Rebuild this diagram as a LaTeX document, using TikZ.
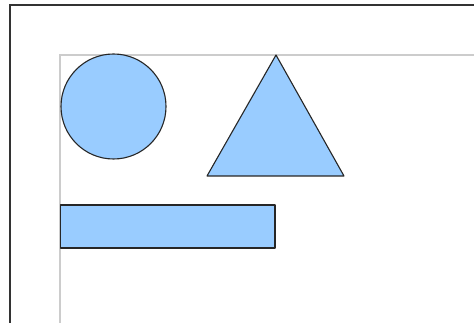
\documentclass[tikz,border=0pt]{standalone}
\begin{document}
\begin{tikzpicture}[x=1pt,y=-1pt,
  frame/.style={draw=black!80,line width=2pt},
  guide/.style={draw=black!20,line width=1.5pt},
  shapefill/.style={fill=shapeblue,draw=black!85,line width=1.1pt,line join=round}]
\definecolor{shapeblue}{HTML}{99CCFF}
\useasboundingbox (0,0) rectangle (474,323);
\fill[white] (0,0) rectangle (474,323);
% outer frame
\draw[frame] (10,330) -- (10,5) -- (480,5);
% guide lines
\draw[guide] (60,330) -- (60,55) -- (480,55);
% circle
\draw[shapefill] (113.5,106.5) circle[radius=52.5];
% triangle
\draw[shapefill] (276,55) -- (344,176) -- (207,176) -- cycle;
% rectangle
\draw[shapefill] (60.5,205) rectangle (275,248);
\end{tikzpicture}
\end{document}
